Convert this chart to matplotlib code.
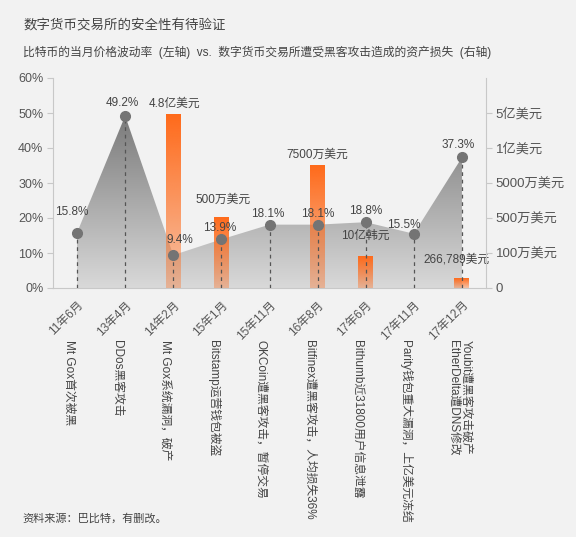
import numpy as np
import matplotlib.pyplot as plt
from matplotlib.colors import LinearSegmentedColormap, to_rgb

plt.rcParams['font.family'] = ['Liberation Sans', 'Noto Sans CJK SC', 'DejaVu Sans']

# data
months = ['11年6月', '13年4月', '14年2月', '15年1月', '15年11月',
          '16年8月', '17年6月', '17年11月', '17年12月']
events = ['Mt Gox首次被黑', 'DDos黑客攻击', 'Mt Gox系统漏洞，破产',
          'Bitstamp运营钱包被盗', 'OKCoin遭黑客攻击，暂停交易',
          'Bitfinex遭黑客攻击，人均损失36%', 'Bithumb近31800用户信息泄露',
          'Parity钱包重大漏洞，上亿美元冻结',
          'Youbit遭黑客攻击破产\nEtherDelta遭DNS修改']
volatility = [15.8, 49.2, 9.4, 13.9, 18.1, 18.1, 18.8, 15.5, 37.3]

loss_idx = [2, 3, 5, 6, 8]
loss_usd = [4.8e8, 5e6, 7.5e7, 9e5, 266789]
loss_labels = ['4.8亿美元', '500万美元', '7500万美元', '10亿韩元', '266,789美元']

right_ticks = [0, 1e6, 5e6, 5e7, 1e8, 5e8]
right_labels = ['0', '100万美元', '500万美元', '5000万美元', '1亿美元', '5亿美元']
# right axis is evenly spaced between these amounts
scale_vals = [0, 1e6, 5e6, 5e7, 1e8, 5e8, 9e8]
scale_pos = [0, 1, 2, 3, 4, 5, 6]

# label offsets in points (dx, dy)
vol_offsets = [(-4, 15), (-2, 9), (5, 11), (-1, 8), (-1, 8), (0, 8), (0, 8), (-7, 6), (-3, 9)]
loss_offsets = [(1, 8), (1, 13), (0, 8), (0, 15), (-4, 14)]

TXT = '#444444'
TICK = '#555555'
AX = '#c8c8c8'

fig = plt.figure(figsize=(5.76, 5.37), dpi=100, facecolor='#f2f2f2')
ax = fig.add_axes([53 / 576, 249 / 537, 433 / 576, 210 / 537])
ax.set_facecolor('none')
ax2 = ax.twinx()

x = np.arange(len(months))
ax.set_xlim(-0.5, len(months) - 0.5)
ax.set_ylim(0, 60)

fwd = lambda v: np.interp(v, scale_vals, scale_pos)
inv = lambda p: np.interp(p, scale_pos, scale_vals)
ax2.set_yscale('function', functions=(fwd, inv))
ax2.set_ylim(0, 9e8)
ax2.set_yticks(right_ticks, right_labels)
ax2.minorticks_off()

# gray gradient area
poly = ax.fill_between(x, volatility, 0, facecolor='none', edgecolor='none')
cmap = LinearSegmentedColormap.from_list('g', ['#d9d9d9', '#666666'])
grad = np.linspace(0, 1, 256).reshape(-1, 1)
im = ax.imshow(grad, cmap=cmap, extent=[-0.5, len(months) - 0.5, 0, 60],
               origin='lower', aspect='auto', zorder=1, interpolation='bilinear')
im.set_clip_path(poly.get_paths()[0], transform=ax.transData)

# orange gradient bars, heights mapped through the right axis scale
bw = 0.31
orange = to_rgb('#ff6a1a')
to_left = ax2.transData + ax.transData.inverted()
bar_tops = []
for i, v in zip(loss_idx, loss_usd):
    top = to_left.transform((i, v))[1]
    bar_tops.append(top)
    g = np.zeros((128, 1, 4))
    g[:, 0, :3] = orange
    g[:, 0, 3] = np.linspace(1.0, 0.35, 128)
    ax.imshow(g, extent=[i - bw / 2, i + bw / 2, 0, top], origin='upper',
              aspect='auto', zorder=3, interpolation='bilinear')

ax.set_xlim(-0.5, len(months) - 0.5)
ax.set_ylim(0, 60)

ax.vlines(x, 0, volatility, colors='#555555', linestyles=(0, (3, 3)), lw=0.9, zorder=4)
ax.plot(x, volatility, 'o', ms=7, color='#747474', zorder=5)

for xi, v, (dx, dy) in zip(x, volatility, vol_offsets):
    ax.annotate(f'{v}%', (xi, v), xytext=(dx, dy), textcoords='offset points',
                ha='center', va='center', fontsize=8.5, color=TXT, zorder=6)
for i, top, lab, (dx, dy) in zip(loss_idx, bar_tops, loss_labels, loss_offsets):
    ax.annotate(lab, (i, top), xytext=(dx, dy), textcoords='offset points',
                ha='center', va='center', fontsize=8.5, color=TXT, zorder=6)

# axes styling
ax.set_yticks(range(0, 61, 10), [f'{t}%' for t in range(0, 61, 10)])
ax.tick_params(axis='y', length=4, color=AX, labelcolor=TICK, labelsize=9, pad=3)
ax.set_xticks(x, months, rotation=45, ha='right', rotation_mode='anchor')
ax.tick_params(axis='x', length=0, labelcolor=TICK, labelsize=8.5, pad=8)
ax2.tick_params(axis='y', length=4, color=AX, labelcolor=TICK, labelsize=9.5, pad=3)
for s in ['top', 'right']:
    ax.spines[s].set_visible(False)
ax.spines['left'].set_color(AX)
ax.spines['bottom'].set_color(AX)
for s in ['top', 'left', 'bottom']:
    ax2.spines[s].set_visible(False)
ax2.spines['right'].set_color(AX)

# event notes below the months
for xi, ev in zip(x, events):
    off = -0.05 if '\n' in ev else -0.17
    ax.annotate(ev, (xi + off, 197), xycoords=('data', 'figure pixels'),
                rotation=-90, ha='center', va='top', fontsize=8.5, color=TXT,
                linespacing=1.2)

fig.text(23 / 576, 1 - 26 / 537, '数字货币交易所的安全性有待验证',
         fontsize=9.7, color=TXT, va='center')
fig.text(23 / 576, 1 - 52 / 537,
         '比特币的当月价格波动率  (左轴)  vs.  数字货币交易所遭受黑客攻击造成的资产损失  (右轴)',
         fontsize=8.5, color=TXT, va='center')
fig.text(22 / 576, 1 - 518 / 537, '资料来源：巴比特，有删改。',
         fontsize=8, color=TXT, va='center')

fig.savefig('out.png', dpi=100, facecolor=fig.get_facecolor())
